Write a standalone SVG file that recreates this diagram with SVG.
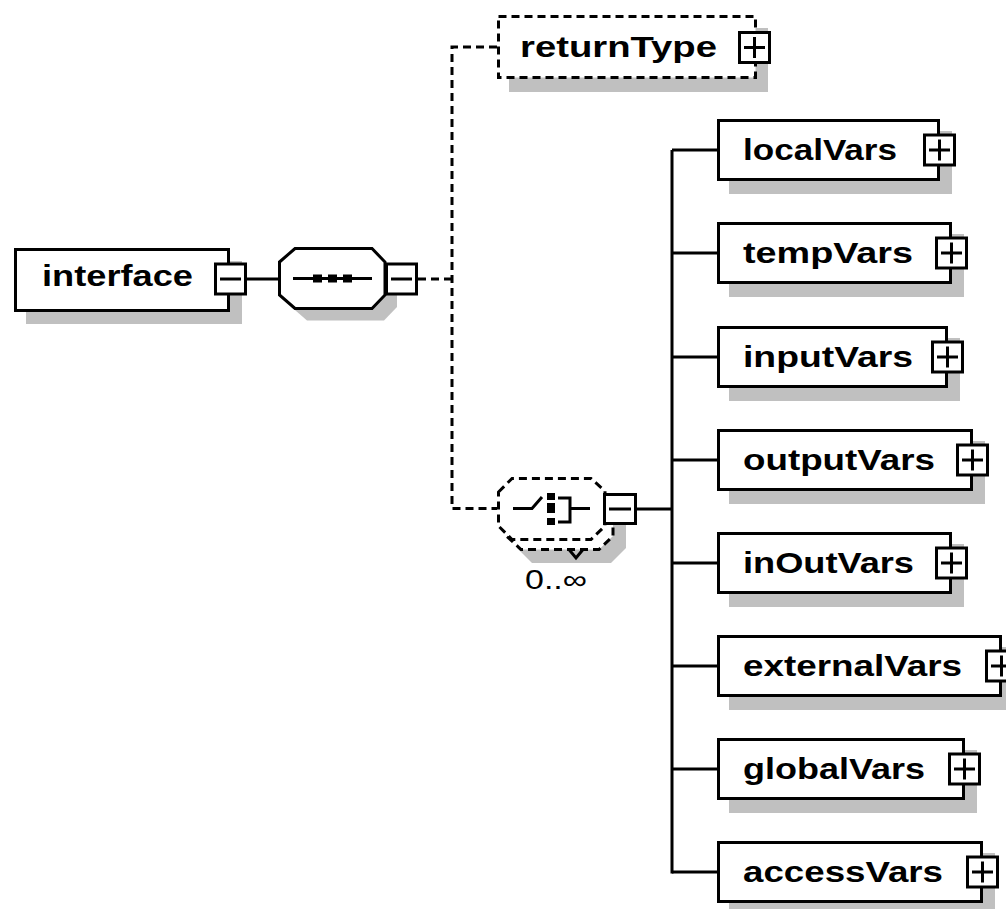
<svg xmlns="http://www.w3.org/2000/svg" width="1006" height="909" viewBox="0 0 1006 909">
<style>
.bg{fill:#ffffff}
.box{fill:#ffffff;stroke:#000000;stroke-width:3}
.dbox{fill:#ffffff;stroke:#000000;stroke-width:3;stroke-dasharray:8 5}
.sh{fill:#c0c0c0;stroke:none}
.ln{fill:none;stroke:#000000;stroke-width:3}
.dl{fill:none;stroke:#000000;stroke-width:3;stroke-dasharray:8 5}
.blk{fill:#000000}
.lbl{font-family:"Liberation Sans",Arial,sans-serif;font-weight:bold;font-size:30px;fill:#000000}
.occ{font-family:"Liberation Sans",Arial,sans-serif;font-size:27px;fill:#000000}
</style>
<rect class="bg" x="0" y="0" width="1006" height="909"/>

<g id="connectors">
  <line class="ln" x1="245" y1="279" x2="280" y2="279"/>
  <path class="dl" d="M418,279 H452"/>
  <path class="dl" d="M497,47 H452 V508.5 H497"/>
  <line class="ln" x1="637" y1="509" x2="672" y2="509"/>
  <line class="ln" x1="672" y1="150" x2="672" y2="873.5"/>
  <line class="ln" x1="672" y1="150" x2="718" y2="150"/>
  <line class="ln" x1="672" y1="253" x2="718" y2="253"/>
  <line class="ln" x1="672" y1="357" x2="718" y2="357"/>
  <line class="ln" x1="672" y1="460" x2="718" y2="460"/>
  <line class="ln" x1="672" y1="563" x2="718" y2="563"/>
  <line class="ln" x1="672" y1="666" x2="718" y2="666"/>
  <line class="ln" x1="672" y1="769" x2="718" y2="769"/>
  <line class="ln" x1="672" y1="872" x2="718" y2="872"/>
</g>

<g id="interface">
  <rect class="sh" x="26" y="261" width="216" height="63"/>
  <rect class="box" x="15.5" y="249.5" width="213" height="61"/>
  <text class="lbl" x="42" y="286" textLength="151" lengthAdjust="spacingAndGlyphs">interface</text>
  <rect class="box" x="215.5" y="264" width="30" height="30"/>
  <line class="ln" x1="220" y1="279" x2="241" y2="279"/>
</g>

<g id="sequence">
  <polygon class="sh" points="291.5,274 307,260.5 384,260.5 397,274 397,307 384,320.5 307,320.5 291.5,307"/>
  <polygon class="box" points="279.5,262 295,248.5 372,248.5 385,262 385,295 372,308.5 295,308.5 279.5,295"/>
  <line class="ln" x1="293" y1="278.5" x2="372" y2="278.5"/>
  <rect class="blk" x="313" y="274.5" width="9" height="8"/>
  <rect class="blk" x="328" y="274.5" width="9" height="8"/>
  <rect class="blk" x="343" y="274.5" width="9" height="8"/>
  <rect class="box" x="386.5" y="264" width="30" height="30"/>
  <line class="ln" x1="391" y1="279" x2="412" y2="279"/>
</g>

<g id="returnType">
  <rect class="sh" x="509" y="28" width="259" height="64"/>
  <rect class="dbox" x="498.5" y="16.5" width="257" height="61"/>
  <text class="lbl" x="520" y="57" textLength="197" lengthAdjust="spacingAndGlyphs">returnType</text>
  <rect class="box" x="739.5" y="32.5" width="30" height="30"/>
  <line class="ln" x1="744" y1="47.5" x2="765" y2="47.5"/>
  <line class="ln" x1="754.5" y1="37" x2="754.5" y2="58"/>
</g>

<g id="choice">
  <polygon class="sh" points="517,514 532,499 611,499 626,513 626,548 611,563 532,563 517,548"/>
  <polygon class="dbox" points="506.5,502 521,488.5 599,488.5 613,501 613,536 599,549.5 521,549.5 506.5,536"/>
  <path class="ln" d="M569,549.5 L576,558 L583,549.5"/>
  <polygon class="dbox" points="498.5,492 512,478.5 591,478.5 605,491 605,526 591,539.5 512,539.5 498.5,526"/>
  <path class="ln" d="M513,508.5 H532 L542,497"/>
  <rect class="blk" x="547" y="493" width="8" height="7"/>
  <rect class="blk" x="547" y="503" width="8" height="10"/>
  <rect class="blk" x="547" y="518" width="8" height="7"/>
  <path class="ln" d="M558,498 H570 V522 H558 M570,508.5 H590"/>
  <rect class="box" x="604.5" y="494.5" width="31" height="29"/>
  <line class="ln" x1="609" y1="509" x2="631" y2="509"/>
  <text class="occ" x="525" y="589" textLength="62" lengthAdjust="spacingAndGlyphs">0..∞</text>
</g>

<g id="localVars">
  <rect class="sh" x="729" y="131" width="223" height="63"/>
  <rect class="box" x="718.5" y="120.5" width="220" height="59"/>
  <text class="lbl" x="743" y="160" textLength="154" lengthAdjust="spacingAndGlyphs">localVars</text>
  <rect class="box" x="924.5" y="135" width="30" height="30"/>
  <line class="ln" x1="929" y1="150" x2="950" y2="150"/>
  <line class="ln" x1="939.5" y1="139.5" x2="939.5" y2="160.5"/>
</g>

<g id="tempVars">
  <rect class="sh" x="729" y="234" width="235" height="63"/>
  <rect class="box" x="718.5" y="223.5" width="232" height="59"/>
  <text class="lbl" x="743" y="263" textLength="170" lengthAdjust="spacingAndGlyphs">tempVars</text>
  <rect class="box" x="936.5" y="238" width="30" height="30"/>
  <line class="ln" x1="941" y1="253" x2="962" y2="253"/>
  <line class="ln" x1="951.5" y1="242.5" x2="951.5" y2="263.5"/>
</g>

<g id="inputVars">
  <rect class="sh" x="729" y="338" width="231" height="63"/>
  <rect class="box" x="718.5" y="327.5" width="228" height="59"/>
  <text class="lbl" x="743" y="367" textLength="170" lengthAdjust="spacingAndGlyphs">inputVars</text>
  <rect class="box" x="932.5" y="342" width="30" height="30"/>
  <line class="ln" x1="937" y1="357" x2="958" y2="357"/>
  <line class="ln" x1="947.5" y1="346.5" x2="947.5" y2="367.5"/>
</g>

<g id="outputVars">
  <rect class="sh" x="729" y="441" width="256" height="63"/>
  <rect class="box" x="718.5" y="430.5" width="253" height="59"/>
  <text class="lbl" x="743" y="470" textLength="192" lengthAdjust="spacingAndGlyphs">outputVars</text>
  <rect class="box" x="957.5" y="445" width="30" height="30"/>
  <line class="ln" x1="962" y1="460" x2="983" y2="460"/>
  <line class="ln" x1="972.5" y1="449.5" x2="972.5" y2="470.5"/>
</g>

<g id="inOutVars">
  <rect class="sh" x="729" y="544" width="235" height="63"/>
  <rect class="box" x="718.5" y="533.5" width="232" height="59"/>
  <text class="lbl" x="743" y="573" textLength="171" lengthAdjust="spacingAndGlyphs">inOutVars</text>
  <rect class="box" x="936.5" y="548" width="30" height="30"/>
  <line class="ln" x1="941" y1="563" x2="962" y2="563"/>
  <line class="ln" x1="951.5" y1="552.5" x2="951.5" y2="573.5"/>
</g>

<g id="externalVars">
  <rect class="sh" x="729" y="647" width="285" height="63"/>
  <rect class="box" x="718.5" y="636.5" width="282" height="59"/>
  <text class="lbl" x="743" y="676" textLength="219" lengthAdjust="spacingAndGlyphs">externalVars</text>
  <rect class="box" x="986.5" y="651" width="30" height="30"/>
  <line class="ln" x1="991" y1="666" x2="1012" y2="666"/>
  <line class="ln" x1="1001.5" y1="655.5" x2="1001.5" y2="676.5"/>
</g>

<g id="globalVars">
  <rect class="sh" x="729" y="750" width="248" height="63"/>
  <rect class="box" x="718.5" y="739.5" width="245" height="59"/>
  <text class="lbl" x="743" y="779" textLength="182" lengthAdjust="spacingAndGlyphs">globalVars</text>
  <rect class="box" x="949.5" y="754" width="30" height="30"/>
  <line class="ln" x1="954" y1="769" x2="975" y2="769"/>
  <line class="ln" x1="964.5" y1="758.5" x2="964.5" y2="779.5"/>
</g>

<g id="accessVars">
  <rect class="sh" x="729" y="853" width="266" height="63"/>
  <rect class="box" x="718.5" y="842.5" width="263" height="59"/>
  <text class="lbl" x="743" y="882" textLength="200" lengthAdjust="spacingAndGlyphs">accessVars</text>
  <rect class="box" x="967.5" y="857" width="30" height="30"/>
  <line class="ln" x1="972" y1="872" x2="993" y2="872"/>
  <line class="ln" x1="982.5" y1="861.5" x2="982.5" y2="882.5"/>
</g>
</svg>
